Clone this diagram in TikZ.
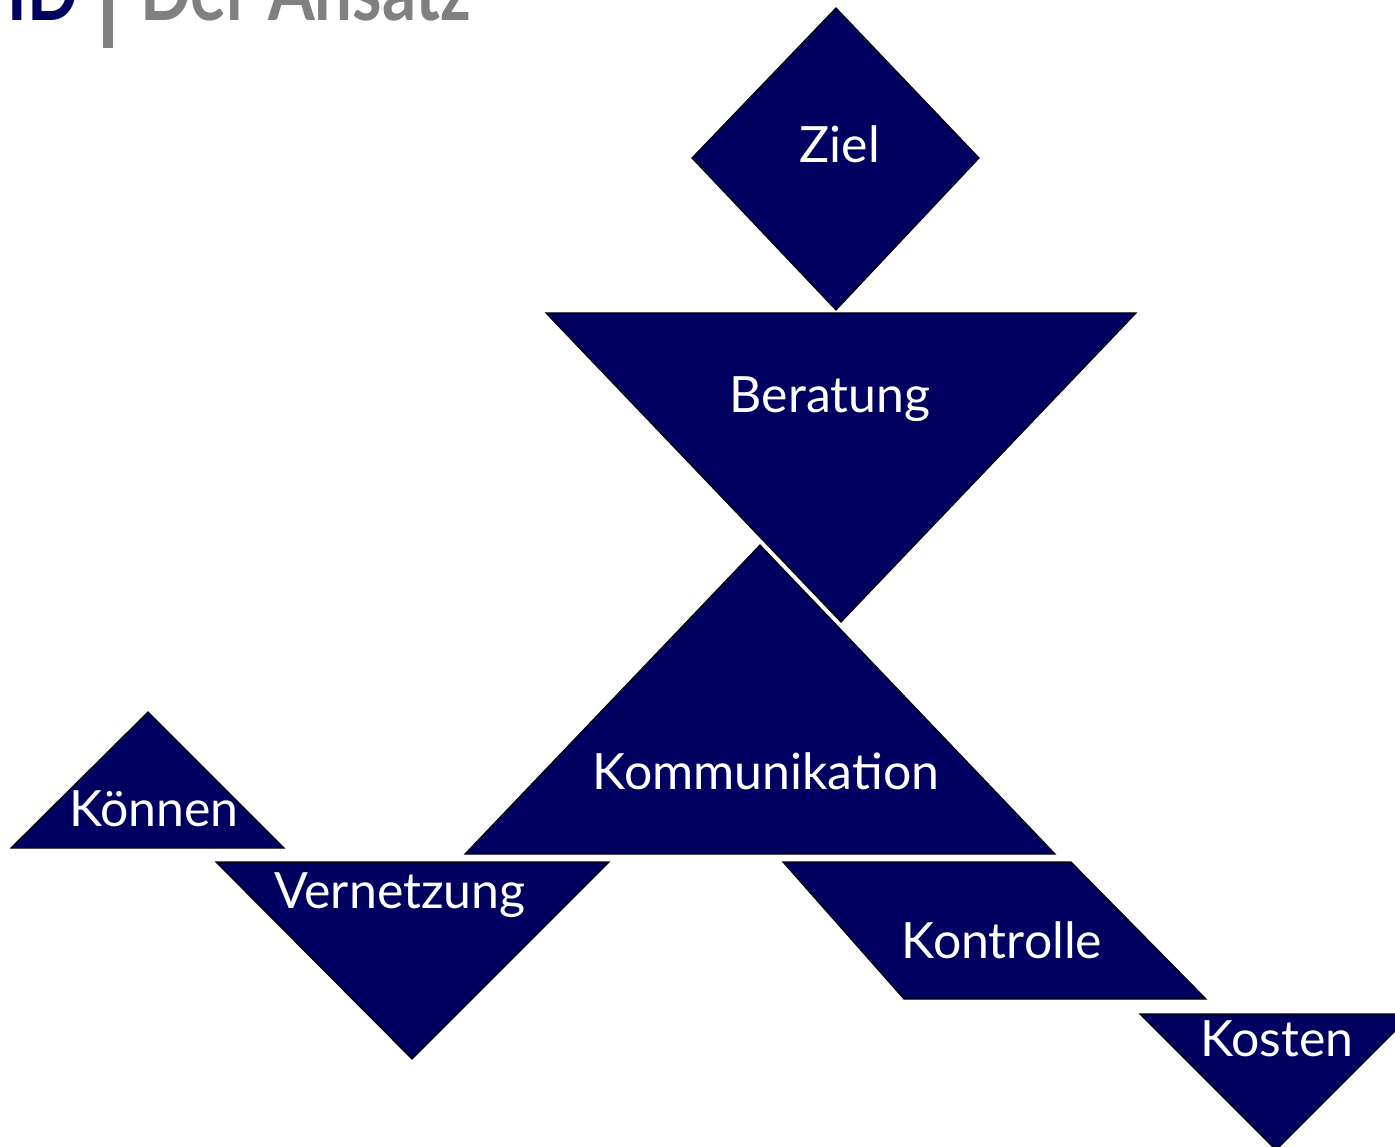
\documentclass[tikz,border=0pt]{standalone}
\usepackage{fontspec}
\setmainfont{Lato}
\newfontfamily\titlefont[FakeStretch=0.8]{Lato Bold}
\definecolor{navy}{RGB}{0,0,96}
\definecolor{titlegray}{RGB}{128,128,128}
\begin{document}
\begin{tikzpicture}[x=1pt,y=-1pt,
  piece/.style={fill=navy,draw=black,line width=1.2pt,line join=miter},
  lbl/.style={text=white,font=\fontsize{50}{54}\selectfont,inner sep=0pt,anchor=base}]
\useasboundingbox (0,0) rectangle (1395,1147);
\clip (0,0) rectangle (1395,1147);
% title
\node[anchor=base east,inner sep=0pt,text=navy,font=\titlefont\fontsize{84}{90}\selectfont] (hd) at (79,21) {HD};
\fill[titlegray] (103,-10) rectangle (113,48);
\node[anchor=base west,inner sep=0pt,text=titlegray,font=\titlefont\fontsize{84}{90}\selectfont] (ansatz) at (140,21) {Der Ansatz};
% pieces
\draw[piece] (836,8) -- (979,158) -- (836,310) -- (692,158) -- cycle;
\draw[piece] (546,313) -- (1136,313) -- (841,622) -- cycle;
\draw[piece] (760,545) -- (1055,854) -- (465,854) -- cycle;
\draw[piece] (148,712) -- (284,848) -- (11,848) -- cycle;
\draw[piece] (216,862) -- (609,862) -- (412,1059) -- cycle;
\draw[piece] (783,862) -- (1071,862) -- (1206,999) -- (904,999) -- cycle;
\draw[piece] (1140,1014) -- (1412,1014) -- (1276,1150) -- cycle;
% labels
\node[lbl] (ziel) at (840,163) {Ziel};
\node[lbl] (beratung) at (830,413) {Beratung};
\node[lbl] (komm) at (766,789) {Kommunikation};
\node[lbl] (koennen) at (154,826) {Können};
\node[lbl] (vernetzung) at (400,908) {Vernetzung};
\node[lbl] (kontrolle) at (1002,958) {Kontrolle};
\node[lbl] (kosten) at (1277,1056) {Kosten};
\end{tikzpicture}
\end{document}
